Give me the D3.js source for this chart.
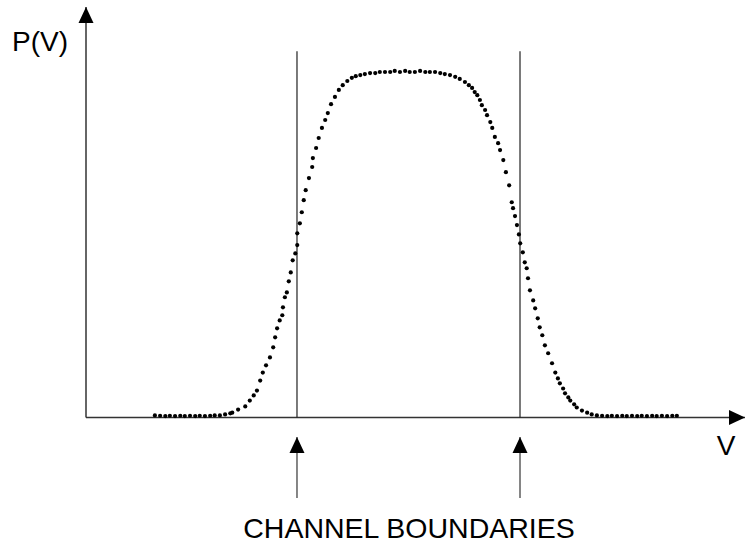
<!DOCTYPE html>
<html>
<head>
<meta charset="utf-8">
<script src="https://cdn.jsdelivr.net/npm/d3@7"></script>
<style>
  html, body { margin: 0; padding: 0; background: #fff; }
  svg { display: block; }
  text { font-family: "Liberation Sans", Arial, sans-serif; fill: #000; }
</style>
</head>
<body>
<svg id="chart" width="745" height="544"></svg>
<script>
// ---- data (V in arbitrary units, P(V) normalised to the plateau) ----
const vValues = [
  10.6, 11.4, 12.2, 12.9, 13.7, 14.5, 15.2, 16.0, 16.8, 17.5, 18.3, 19.1, 19.8, 20.6, 21.4, 22.2,
  22.5, 23.4, 24.5, 25.2, 25.8, 26.3, 26.8, 27.2, 27.7, 28.3, 28.8, 29.1, 29.4, 29.8, 30.2, 30.3,
  30.6, 30.9, 31.2, 31.5, 31.8, 32.2, 32.5, 32.5, 32.9, 33.2, 33.5, 33.8, 34.3, 34.8, 34.9, 35.4,
  35.8, 36.3, 36.8, 37.2, 37.7, 38.3, 38.9, 39.5, 40.2, 40.9, 41.5, 42.2,
  42.9, 43.7, 44.5, 45.2, 46.0, 46.8, 47.5, 48.3, 49.1, 49.8, 50.6, 51.4, 52.2, 52.9, 53.7, 54.5, 55.2,
  56.0, 56.8, 57.5, 58.3, 58.9, 59.4, 59.8, 60.2, 60.6, 60.9, 61.4, 61.7, 62.2, 62.5, 62.9, 63.4,
  63.7, 64.2, 64.6, 65.1, 65.5, 65.7, 66.0, 66.3, 66.6, 66.8, 67.2, 67.5, 67.8, 68.0, 68.3, 68.8,
  69.1, 69.5, 69.8, 70.2, 70.6, 71.1, 71.7, 72.2, 72.6, 72.9, 73.4, 73.7, 74.2, 74.5, 75.1, 75.5,
  76.3, 77.1, 77.8, 78.6,
  79.4, 80.2, 80.9, 81.7, 82.5, 83.2, 84.0, 84.8, 85.5, 86.3, 87.1, 87.8, 88.6, 89.4, 90.2, 90.9
];
const pValues = [
  0.006, 0.005, 0.004, 0.005, 0.004, 0.005, 0.004, 0.005, 0.004, 0.005, 0.004, 0.005, 0.006, 0.006, 0.009, 0.012,
  0.014, 0.023, 0.032, 0.049, 0.064, 0.078, 0.107, 0.130, 0.151, 0.174, 0.203, 0.232, 0.258, 0.281, 0.296, 0.319,
  0.348, 0.362, 0.394, 0.420, 0.455, 0.475, 0.499, 0.533, 0.562, 0.594, 0.629, 0.658, 0.693, 0.725, 0.751, 0.780,
  0.809, 0.838, 0.861, 0.881, 0.907, 0.928, 0.948, 0.962, 0.974, 0.983, 0.988, 0.991,
  0.994, 0.997, 0.997, 1.000, 1.000, 1.000, 1.003, 1.000, 1.003, 1.000, 1.000, 1.003, 1.000, 1.000, 1.000, 0.997, 0.994,
  0.991, 0.986, 0.980, 0.971, 0.962, 0.954, 0.942, 0.933, 0.919, 0.904, 0.890, 0.875, 0.855, 0.838, 0.812, 0.794,
  0.774, 0.745, 0.710, 0.672, 0.623, 0.606, 0.583, 0.557, 0.530, 0.504, 0.478, 0.449, 0.432, 0.403, 0.368, 0.339,
  0.316, 0.287, 0.261, 0.238, 0.209, 0.186, 0.157, 0.130, 0.113, 0.099, 0.084, 0.070, 0.058, 0.049, 0.038, 0.029,
  0.020, 0.014, 0.009, 0.006,
  0.005, 0.004, 0.005, 0.004, 0.005, 0.004, 0.005, 0.004, 0.005, 0.004, 0.005, 0.004, 0.005, 0.004, 0.005, 0.005
];
const channelBoundaries = [32.46, 66.77];
const boundaryTop = 1.06;
const yAxisLabel = "P(V)";
const xAxisLabel = "V";
const boundaryLabel = "CHANNEL BOUNDARIES";

// ---- layout ----
const svg = d3.select("#chart");
const x = d3.scaleLinear().domain([0, 100]).range([86, 736]);
const y = d3.scaleLinear().domain([0, 1]).range([417.5, 72]);

const points = vValues.map((v, i) => ({ v, p: pValues[i] }));

svg.append("defs").append("marker")
  .attr("id", "arrow")
  .attr("viewBox", "0 0 16 16")
  .attr("refX", 16).attr("refY", 8)
  .attr("markerWidth", 16).attr("markerHeight", 16)
  .attr("markerUnits", "userSpaceOnUse")
  .attr("orient", "auto")
  .append("path")
  .attr("d", "M0,0.5 L16,8 L0,15.5 Z")
  .attr("fill", "#000");

// axes
svg.append("line")
  .attr("x1", x(0)).attr("y1", y(0))
  .attr("x2", x(0)).attr("y2", 7)
  .attr("stroke", "#333").attr("stroke-width", 1.5)
  .attr("marker-end", "url(#arrow)");
svg.append("line")
  .attr("x1", x(0)).attr("y1", y(0))
  .attr("x2", 745).attr("y2", y(0))
  .attr("stroke", "#333").attr("stroke-width", 1.5)
  .attr("marker-end", "url(#arrow)");

// channel boundary lines
svg.selectAll("line.boundary")
  .data(channelBoundaries)
  .join("line")
  .attr("class", "boundary")
  .attr("x1", d => x(d)).attr("x2", d => x(d))
  .attr("y1", y(0)).attr("y2", y(boundaryTop))
  .attr("stroke", "#222").attr("stroke-width", 1.2);

// arrows below axis pointing to boundaries
svg.selectAll("line.barrow")
  .data(channelBoundaries)
  .join("line")
  .attr("class", "barrow")
  .attr("x1", d => x(d)).attr("x2", d => x(d))
  .attr("y1", 498).attr("y2", 437)
  .attr("stroke", "#444").attr("stroke-width", 1.3)
  .attr("marker-end", "url(#arrow)");

// data dots
svg.append("g")
  .selectAll("circle")
  .data(points)
  .join("circle")
  .attr("cx", d => x(d.v))
  .attr("cy", d => y(d.p))
  .attr("r", 2.1)
  .attr("fill", "#000");

// labels
svg.append("text")
  .attr("x", 12).attr("y", 51)
  .attr("font-size", 28)
  .text(yAxisLabel);
svg.append("text")
  .attr("x", 726).attr("y", 455)
  .attr("text-anchor", "middle")
  .attr("font-size", 28)
  .text(xAxisLabel);
svg.append("text")
  .attr("x", 409).attr("y", 538)
  .attr("text-anchor", "middle")
  .attr("font-size", 28.5)
  .text(boundaryLabel);
</script>
</body>
</html>
